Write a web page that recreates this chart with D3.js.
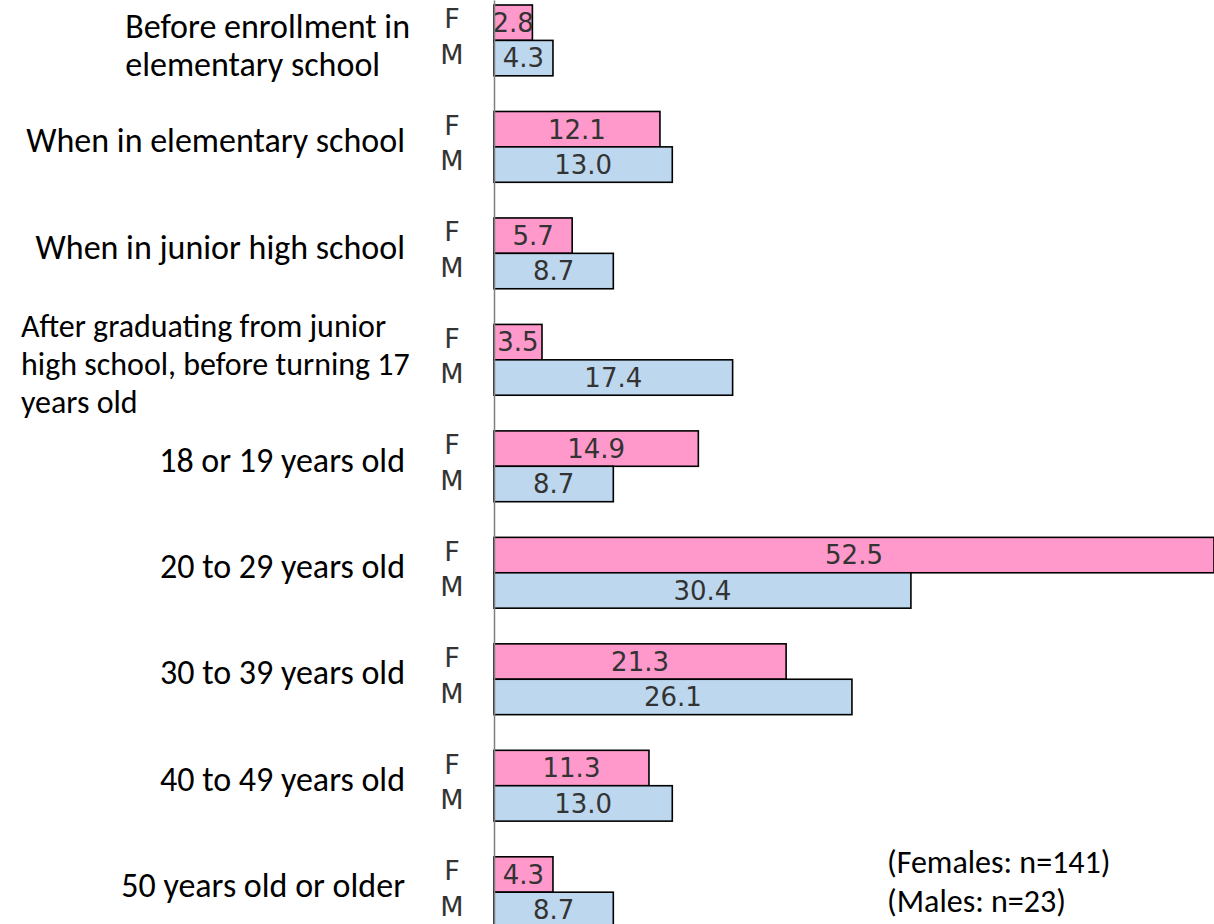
<!DOCTYPE html>
<html>
<head>
<meta charset="utf-8">
<script src="https://cdn.jsdelivr.net/npm/d3@7"></script>
<style>
  html, body { margin: 0; padding: 0; background: #fff; }
  svg { display: block; }
</style>
</head>
<body>
<svg id="chart" width="1214" height="924"></svg>
<script>
// ---- data ----
const categories = [
  "Before enrollment in elementary school",
  "When in elementary school",
  "When in junior high school",
  "After graduating from junior high school, before turning 17 years old",
  "18 or 19 years old",
  "20 to 29 years old",
  "30 to 39 years old",
  "40 to 49 years old",
  "50 years old or older"
];
const categoryLines = [
  ["Before enrollment in", "elementary school"],
  ["When in elementary school"],
  ["When in junior high school"],
  ["After graduating from junior", "high school, before turning 17", "years old"],
  ["18 or 19 years old"],
  ["20 to 29 years old"],
  ["30 to 39 years old"],
  ["40 to 49 years old"],
  ["50 years old or older"]
];
const seriesKeys = ["F", "M"];
const femaleValues = [2.8, 12.1, 5.7, 3.5, 14.9, 52.5, 21.3, 11.3, 4.3];
const maleValues   = [4.3, 13.0, 8.7, 17.4, 8.7, 30.4, 26.1, 13.0, 8.7];
const noteLines = ["(Females: n=141)", "(Males: n=23)"];

// ---- layout ----
const W = 1214, H = 924;
const axisX = 494;
const svg = d3.select("#chart");

const x = d3.scaleLinear().domain([0, 52.5]).range([axisX, 1214]);
const y = d3.scaleBand().domain(categories).range([5, 927.6]).paddingInner(0.335).paddingOuter(0);
const ySub = d3.scaleBand().domain(seriesKeys).range([0, y.bandwidth()]).padding(0);

const colors = { F: "#FF99CC", M: "#BDD7EE" };
const rows = categories.map((c, i) => ({
  cat: c, lines: categoryLines[i],
  vals: [{ key: "F", v: femaleValues[i] }, { key: "M", v: maleValues[i] }]
}));

const labelFont = "Carlito, Calibri, Lato, sans-serif";
const numFont = "'DejaVu Sans', Verdana, sans-serif";

const g = svg.selectAll("g.row").data(rows).join("g")
  .attr("class", "row")
  .attr("transform", d => `translate(0,${y(d.cat)})`);

// bars
g.selectAll("rect").data(d => d.vals).join("rect")
  .attr("x", x(0))
  .attr("y", d => ySub(d.key))
  .attr("width", d => x(d.v) - x(0))
  .attr("height", ySub.bandwidth())
  .attr("fill", d => colors[d.key])
  .attr("stroke", "#000")
  .attr("stroke-width", 1.6);

// value labels
g.selectAll("text.val").data(d => d.vals).join("text")
  .attr("class", "val")
  .attr("x", d => (x(d.v) + x(0)) / 2)
  .attr("y", d => ySub(d.key) + ySub.bandwidth() / 2)
  .attr("dy", "0.36em")
  .attr("text-anchor", "middle")
  .attr("font-family", numFont)
  .attr("font-size", 26)
  .attr("fill", "#333")
  .text(d => d.v.toFixed(1));

// F / M labels
g.selectAll("text.key").data(d => d.vals).join("text")
  .attr("class", "key")
  .attr("x", 452)
  .attr("y", d => ySub(d.key) + ySub.bandwidth() / 2 - 4)
  .attr("dy", "0.36em")
  .attr("text-anchor", "middle")
  .attr("font-family", numFont)
  .attr("font-size", 27)
  .attr("fill", "#333")
  .text(d => d.key);

// category labels
const lineH = 38;
const rightEdge = 405;
const maxBlock = 389;
g.each(function(d) {
  const grp = d3.select(this);
  const n = d.lines.length;
  const center = y.bandwidth() / 2 + (n > 1 ? 5 : -6);
  const t = grp.append("g").attr("class", "cat");
  let fs = 34;
  const texts = t.selectAll("text").data(d.lines).join("text")
    .attr("y", (l, i) => center + (i - (n - 1) / 2) * lineH)
    .attr("dy", "0.33em")
    .attr("font-family", labelFont)
    .attr("font-size", fs)
    .attr("fill", "#000")
    .text(l => l);
  if (n > 1) {
    let maxW = 0;
    texts.each(function() { maxW = Math.max(maxW, this.getComputedTextLength()); });
    if (maxW > maxBlock) {
      fs = fs * maxBlock / maxW;
      texts.attr("font-size", fs);
      maxW = maxBlock;
    }
    texts.attr("x", rightEdge + 5 - maxW).attr("text-anchor", "start");
  } else {
    texts.attr("x", rightEdge).attr("text-anchor", "end");
  }
});

// axis line
const axis = d3.axisLeft(d3.scaleLinear().range([0, H])).ticks(0).tickSize(0).tickFormat("");
svg.append("g").attr("transform", `translate(${axisX},0)`).call(axis)
  .select(".domain").attr("stroke", "#7f7f7f").attr("stroke-width", 1.5);

// note
svg.append("g").selectAll("text").data(noteLines).join("text")
  .attr("x", 887)
  .attr("y", (d, i) => 862 + i * 39)
  .attr("dy", "0.33em")
  .attr("font-family", labelFont)
  .attr("font-size", 32)
  .attr("fill", "#000")
  .text(d => d);
</script>
</body>
</html>
